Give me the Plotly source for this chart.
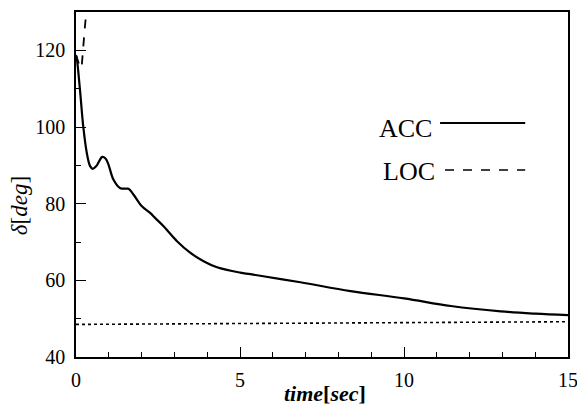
import plotly.graph_objects as go

# ACC response
acc_t = [0.0, 0.02, 0.12, 0.22, 0.33, 0.43, 0.51, 0.62, 0.72, 0.80, 0.90, 0.99, 1.14, 1.34, 1.50, 1.60, 1.75, 2.01, 2.26, 2.41, 2.67,
         3.08, 3.48, 3.89, 4.30, 5.01, 5.32, 6.84, 8.37, 10.0, 11.43, 12.95, 14.0, 15.0]
acc_v = [118.6, 118.1, 109.8, 100.2, 93.2, 89.8, 89.1, 89.8, 91.3, 92.2, 91.8, 90.2, 86.3, 84.1, 83.9, 83.9, 82.4, 79.3, 77.6, 76.3, 74.1,
         70.2, 67.2, 65.0, 63.4, 62.0, 61.6, 59.5, 57.2, 55.3, 53.3, 51.9, 51.3, 50.9]

# LOC response
loc_t = [0.0, 0.05, 0.10, 0.17, 0.22, 0.27, 0.31, 0.34]
loc_v = [118.8, 117.6, 116.2, 115.4, 121.9, 126.0, 129.7, 134.0]

# reference level
ref_t = [0.0, 15.0]
ref_v = [48.5, 49.2]

x_ticks = [0, 5, 10, 15]
y_ticks = [40, 60, 80, 100, 120]

FONT = "Liberation Serif"

fig = go.Figure()
fig.add_trace(go.Scatter(x=ref_t, y=ref_v, mode="lines",
                         line=dict(color="black", width=1.6, dash="dot"), showlegend=False))
fig.add_trace(go.Scatter(x=acc_t, y=acc_v, mode="lines", line_shape="spline",
                         line=dict(color="black", width=2.2), showlegend=False))
fig.add_trace(go.Scatter(x=loc_t, y=loc_v, mode="lines",
                         line=dict(color="black", width=1.8, dash="dash"), showlegend=False))

# legend-like labels
fig.add_annotation(x=0.724, y=0.661, xref="paper", yref="paper", text="ACC", showarrow=False,
                   xanchor="right", yanchor="middle", xshift=2, font=dict(family=FONT, size=26, color="black"))
fig.add_shape(type="line", xref="paper", yref="paper", x0=0.740, x1=0.913, y0=0.678, y1=0.678,
              line=dict(color="black", width=2))
fig.add_annotation(x=0.730, y=0.539, xref="paper", yref="paper", text="LOC", showarrow=False,
                   xanchor="right", yanchor="middle", xshift=2, font=dict(family=FONT, size=26, color="black"))
fig.add_shape(type="line", xref="paper", yref="paper", x0=0.750, x1=0.913, y0=0.542, y1=0.542,
              line=dict(color="black", width=1.6, dash="dash"))

# axis titles
fig.add_annotation(x=0.506, y=-0.107, xref="paper", yref="paper", text="<b><i>time</i>[<i>sec</i>]</b>",
                   showarrow=False, xanchor="center", yanchor="middle",
                   font=dict(family=FONT, size=22, color="black"))
fig.add_annotation(x=-0.116, y=0.44, xref="paper", yref="paper", text="<i>δ</i>[<i>deg</i>]",
                   showarrow=False, xanchor="center", yanchor="middle", textangle=-90,
                   font=dict(family=FONT, size=23, color="black"))

fig.update_xaxes(range=[0, 15], tickvals=x_ticks, ticktext=[str(v) for v in x_ticks],
                 ticks="inside", ticklen=10, tickwidth=1.2, tickcolor="black",
                 minor=dict(dtick=1, ticks="inside", ticklen=5, tickwidth=1, tickcolor="black"),
                 showline=True, linecolor="black", linewidth=1.6, mirror=True,
                 showgrid=False, zeroline=False, automargin=False, ticklabelstandoff=4,
                 ticklabeloverflow="allow",
                 tickfont=dict(family=FONT, size=20, color="black"))
fig.update_yaxes(range=[40, 130], tickvals=y_ticks, ticktext=[str(v) for v in y_ticks],
                 ticks="inside", ticklen=10, tickwidth=1.2, tickcolor="black",
                 minor=dict(dtick=10, ticks="inside", ticklen=5, tickwidth=1, tickcolor="black"),
                 showline=True, linecolor="black", linewidth=1.6, mirror=True,
                 showgrid=False, zeroline=False, automargin=False, ticklabelstandoff=5,
                 ticklabeloverflow="allow",
                 tickfont=dict(family=FONT, size=20, color="black"))

fig.update_layout(width=577, height=409, margin=dict(l=76, r=9, t=12, b=52),
                  paper_bgcolor="white", plot_bgcolor="white", showlegend=False)

# remove the default page margin so the figure fills the window exactly
fig.write_html("out.html", config={"displayModeBar": False},
               post_script="document.body.style.margin='0';document.body.style.overflow='hidden';")
